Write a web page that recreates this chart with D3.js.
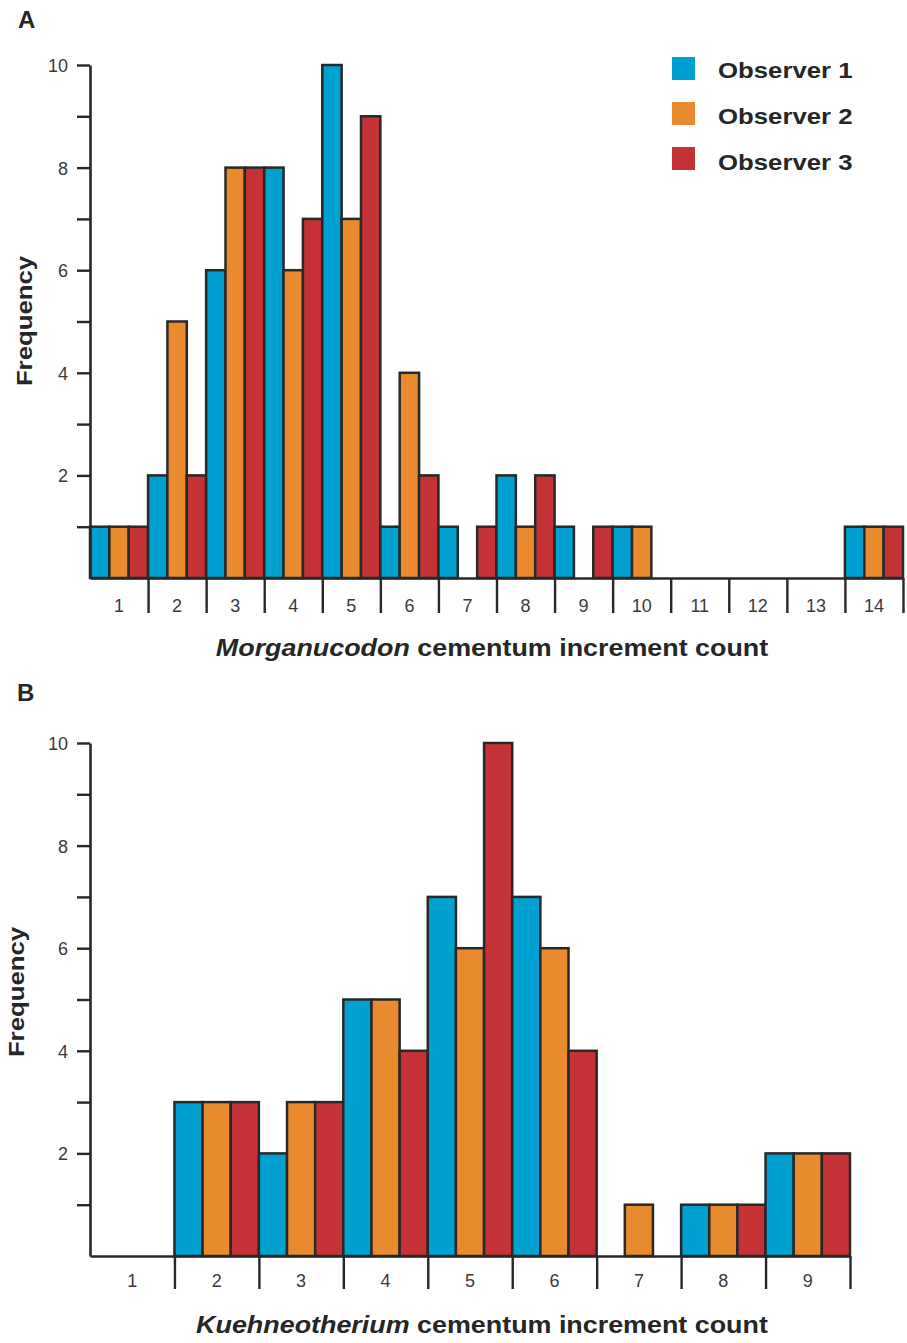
<!DOCTYPE html>
<html>
<head>
<meta charset="utf-8">
<script src="https://cdn.jsdelivr.net/npm/d3@7"></script>
<style>
  html, body { margin: 0; padding: 0; background: #ffffff; }
  svg { display: block; }
  text { font-family: "Liberation Sans", Arial, Helvetica, sans-serif; }
</style>
</head>
<body>
<svg id="chart" width="907" height="1343"></svg>
<script>
// ---------- DATA ----------
const observers = ["Observer 1", "Observer 2", "Observer 3"];
const colors = ["#00a0d0", "#e88a2d", "#c43235"];

// Panel A: Morganucodon
const binsA = [1, 2, 3, 4, 5, 6, 7, 8, 9, 10, 11, 12, 13, 14];
const obs1A = [1, 2, 6, 8, 10, 1, 1, 2, 1, 1, 0, 0, 0, 1];
const obs2A = [1, 5, 8, 6, 7, 4, 0, 1, 0, 1, 0, 0, 0, 1];
const obs3A = [1, 2, 8, 7, 9, 2, 1, 2, 1, 0, 0, 0, 0, 1];

// Panel B: Kuehneotherium
const binsB = [1, 2, 3, 4, 5, 6, 7, 8, 9];
const obs1B = [0, 3, 2, 5, 7, 7, 0, 1, 2];
const obs2B = [0, 3, 3, 5, 6, 6, 1, 1, 2];
const obs3B = [0, 3, 3, 4, 10, 4, 0, 1, 2];

const yTicks = [1, 2, 3, 4, 5, 6, 7, 8, 9, 10];
const yLabelTicks = [2, 4, 6, 8, 10];

// ---------- DRAW ----------
const svg = d3.select("#chart");
const SX = 1.12; // horizontal stretch of the original typeface
const ink = "#282828";

function stretchedText(g, x, y, anchor, size, weight) {
  return g.append("text")
    .attr("transform", `translate(${x},${y}) scale(${SX},1)`)
    .attr("text-anchor", anchor)
    .attr("font-size", size)
    .attr("font-weight", weight)
    .attr("fill", "#262626");
}

function panel(cfg) {
  const g = svg.append("g");
  const bins = cfg.bins;
  const series = cfg.series;

  const xBand = d3.scaleBand().domain(bins).range([cfg.x0, cfg.x1]).padding(0);
  const xInner = d3.scaleBand().domain(d3.range(observers.length)).range([0, xBand.bandwidth()]).padding(0);
  const xLin = d3.scaleLinear().domain([bins[0] - 0.5, bins[bins.length - 1] + 0.5]).range([cfg.x0, cfg.x1]);
  const y = d3.scaleLinear().domain([0, 10]).range([cfg.yBase, cfg.yTop]);

  // bars
  const rows = [];
  bins.forEach((b, i) => {
    series.forEach((s, k) => { if (s[i] > 0) rows.push({ bin: b, k: k, v: s[i] }); });
  });
  g.append("g").selectAll("rect").data(rows).join("rect")
    .attr("x", d => xBand(d.bin) + xInner(d.k))
    .attr("y", d => y(d.v))
    .attr("width", xInner.bandwidth())
    .attr("height", d => y(0) - y(d.v))
    .attr("fill", d => colors[d.k])
    .attr("stroke", ink)
    .attr("stroke-width", 2.5);

  // y axis
  const yAxis = d3.axisLeft(y)
    .tickValues(yTicks)
    .tickSize(13)
    .tickSizeOuter(0)
    .tickPadding(9)
    .tickFormat(d => yLabelTicks.includes(d) ? d : "");
  const ya = g.append("g").attr("transform", `translate(${cfg.x0},0)`).call(yAxis);
  ya.select(".domain").attr("stroke", ink).attr("stroke-width", 2.6);
  ya.selectAll(".tick line").attr("stroke", ink).attr("stroke-width", 2.4);
  ya.selectAll(".tick text")
    .attr("font-size", 18)
    .attr("fill", "#3a3a3a")
    .attr("font-family", "'Liberation Sans', Arial, sans-serif")
    .attr("dy", "0.36em");

  // x boundary ticks + baseline
  const boundaries = bins.slice(1).map(b => b - 0.5).concat([bins[bins.length - 1] + 0.5]);
  const xAxis = d3.axisBottom(xLin)
    .tickValues(boundaries)
    .tickSize(cfg.tickLen)
    .tickSizeOuter(0)
    .tickFormat("");
  const xa = g.append("g").attr("transform", `translate(0,${cfg.yBase})`).call(xAxis);
  xa.select(".domain").attr("stroke", ink).attr("stroke-width", 2.6);
  xa.selectAll(".tick line").attr("stroke", ink).attr("stroke-width", 2.4);

  // x category labels
  const xl = g.append("g").attr("transform", `translate(0,${cfg.yBase})`)
    .call(d3.axisBottom(xBand).tickSize(0).tickPadding(0));
  xl.select(".domain").remove();
  xl.selectAll(".tick text")
    .attr("y", cfg.labelDy)
    .attr("dy", 0)
    .attr("font-size", 18)
    .attr("fill", "#3a3a3a")
    .attr("font-family", "'Liberation Sans', Arial, sans-serif");

  // y title
  g.append("text")
    .attr("transform", `translate(${cfg.freqX},${cfg.freqY}) rotate(-90) scale(${SX},1)`)
    .attr("text-anchor", "middle")
    .attr("font-size", 23)
    .attr("font-weight", "bold")
    .attr("fill", "#262626")
    .text("Frequency");

  // x title
  const t = stretchedText(g, cfg.titleX, cfg.titleY, "middle", 24, "bold");
  t.append("tspan").attr("font-style", "italic").text(cfg.species);
  t.append("tspan").text(" cementum increment count");

  // panel letter
  g.append("text")
    .attr("x", cfg.letterX).attr("y", cfg.letterY)
    .attr("font-size", 24).attr("font-weight", "bold").attr("fill", "#262626")
    .text(cfg.letter);
  return g;
}

panel({
  bins: binsA, series: [obs1A, obs2A, obs3A],
  x0: 90, x1: 903, yBase: 578, yTop: 65, tickLen: 35, labelDy: 34,
  freqX: 32, freqY: 321, titleX: 492, titleY: 656,
  species: "Morganucodon", letter: "A", letterX: 18, letterY: 28
});

panel({
  bins: binsB, series: [obs1B, obs2B, obs3B],
  x0: 90, x1: 850, yBase: 1256, yTop: 743, tickLen: 33, labelDy: 31,
  freqX: 24, freqY: 992, titleX: 482, titleY: 1333,
  species: "Kuehneotherium", letter: "B", letterX: 17, letterY: 701
});

// legend (panel A)
const leg = svg.append("g");
observers.forEach((name, i) => {
  leg.append("rect")
    .attr("x", 672).attr("y", 57 + i * 45)
    .attr("width", 23).attr("height", 23)
    .attr("fill", colors[i]);
  stretchedText(leg, 718, 78 + i * 46, "start", 23, "bold").text(name);
});
</script>
</body>
</html>
